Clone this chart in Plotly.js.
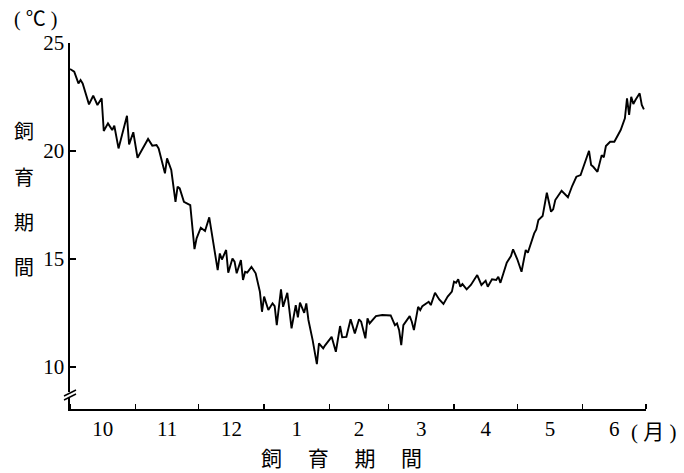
<!DOCTYPE html>
<html>
<head>
<meta charset="utf-8">
<script src="https://cdn.plot.ly/plotly-3.0.1.min.js"></script>
<style>html,body{margin:0;padding:0;background:#fff;}#chart{width:684px;height:473px;}</style>
</head>
<body>
<div id="chart"></div>
<script>
// Daily water temperature during the rearing period (Oct 1978 – Jun 1979)
const dates = [
 '1978-10-01','1978-10-03','1978-10-05','1978-10-06','1978-10-07','1978-10-10','1978-10-12','1978-10-14','1978-10-16','1978-10-17',
 '1978-10-19','1978-10-21','1978-10-22','1978-10-24','1978-10-28','1978-10-29','1978-10-31',
 '1978-11-02','1978-11-07','1978-11-09','1978-11-11','1978-11-12','1978-11-15','1978-11-16','1978-11-18','1978-11-20','1978-11-21',
 '1978-11-22','1978-11-24','1978-11-27','1978-11-29','1978-11-30',
 '1978-12-02','1978-12-04','1978-12-06','1978-12-08','1978-12-10','1978-12-11','1978-12-12','1978-12-14','1978-12-15','1978-12-17',
 '1978-12-18','1978-12-19','1978-12-21','1978-12-22','1978-12-23','1978-12-24','1978-12-26','1978-12-28','1978-12-30','1978-12-31',
 '1979-01-01','1979-01-03','1979-01-05','1979-01-06','1979-01-07','1979-01-09','1979-01-10','1979-01-12','1979-01-14','1979-01-16',
 '1979-01-17','1979-01-18','1979-01-20','1979-01-21','1979-01-22','1979-01-24','1979-01-26','1979-01-27','1979-01-29','1979-01-30',
 '1979-02-02','1979-02-04','1979-02-06','1979-02-07','1979-02-09','1979-02-11','1979-02-13','1979-02-15','1979-02-16','1979-02-18',
 '1979-02-19','1979-02-20','1979-02-23','1979-02-26',
 '1979-03-02','1979-03-04','1979-03-05','1979-03-06','1979-03-07','1979-03-08','1979-03-10','1979-03-11','1979-03-12','1979-03-13',
 '1979-03-15','1979-03-16','1979-03-17','1979-03-20','1979-03-21','1979-03-23','1979-03-25','1979-03-27','1979-03-29','1979-03-31',
 '1979-04-01','1979-04-02','1979-04-03','1979-04-04','1979-04-05','1979-04-07','1979-04-09','1979-04-12','1979-04-14','1979-04-16',
 '1979-04-17','1979-04-19','1979-04-21','1979-04-22','1979-04-23','1979-04-25','1979-04-26','1979-04-28','1979-04-29',
 '1979-05-01','1979-05-03','1979-05-05','1979-05-06','1979-05-09','1979-05-10','1979-05-11','1979-05-13','1979-05-15','1979-05-17',
 '1979-05-18','1979-05-19','1979-05-22','1979-05-25','1979-05-27','1979-05-29','1979-05-31',
 '1979-06-02','1979-06-04','1979-06-05','1979-06-06','1979-06-08','1979-06-10','1979-06-11','1979-06-12','1979-06-14','1979-06-16',
 '1979-06-19','1979-06-21','1979-06-22','1979-06-23','1979-06-24','1979-06-25','1979-06-26','1979-06-28','1979-06-29','1979-06-30'
];
const temps = [
 23.8,23.67,23.13,23.29,23.13,22.16,22.56,22.13,22.44,20.93,
 21.28,20.97,21.17,20.12,21.63,20.31,20.87,
 19.69,20.56,20.25,20.28,20.12,18.97,19.66,19.12,17.65,18.35,
 18.27,17.65,17.5,15.46,15.96,
 16.45,16.3,16.93,15.6,14.49,15.26,14.98,15.42,14.37,15.03,
 14.88,14.34,14.95,14.03,14.41,14.37,14.64,14.34,13.49,12.56,
 13.26,12.64,12.95,12.82,11.94,13.6,12.79,13.44,11.79,12.87,
 12.3,12.98,12.51,12.95,12.18,11.25,10.14,11.1,10.87,11.02,
 11.4,10.71,11.9,11.38,11.4,12.21,11.56,12.21,12.1,11.33,
 12.25,12.02,12.36,12.41,
 12.39,11.94,12.02,11.71,11.02,11.94,12.25,12.36,12.1,11.71,
 12.79,12.64,12.82,13.02,12.87,13.44,13.13,12.92,13.26,13.49,
 13.95,13.9,14.06,13.72,13.84,13.6,13.8,14.26,13.8,14.0,
 13.72,14.06,14.03,14.18,13.9,14.46,14.83,15.14,15.45,
 14.99,14.41,15.42,15.29,16.19,16.37,16.81,16.99,18.07,17.19,
 17.3,17.73,18.16,17.86,18.38,18.81,18.89,
 19.43,20.01,19.35,19.27,19.04,19.81,19.71,20.23,20.43,20.43,
 20.97,21.51,22.44,21.67,22.51,22.18,22.36,22.67,22.13,21.93
];
const yTickVals = [10, 15, 20, 25];
const yTitleChars = ['飼', '育', '期', '間'];
const xTitleText = '飼　 育　 期　 間';
const xUnitText = '( 月 )';
const yUnitText = '( <span style="font-family:Noto Sans CJK JP">℃</span> )';

const serif = 'Liberation Serif, Times New Roman, serif';
const cjk = 'Liberation Serif, Noto Sans CJK JP, serif';

const annotations = [];
yTitleChars.forEach((ch, i) => {
  annotations.push({
    text: ch, xref: 'paper', yref: 'paper', x: -0.08, y: 0.76 - i * 0.124,
    xanchor: 'center', yanchor: 'middle', showarrow: false,
    font: {family: 'Noto Sans CJK JP', size: 20, color: '#000'}
  });
});
annotations.push({
  text: xTitleText, xref: 'paper', yref: 'paper', x: 0.472, y: 0, yshift: -48,
  xanchor: 'center', yanchor: 'middle', showarrow: false,
  font: {family: 'Noto Sans CJK JP', size: 21, color: '#000'}
});
annotations.push({
  text: xUnitText, xref: 'paper', yref: 'paper', x: 1.0, xshift: 8, y: 0, yshift: -23,
  xanchor: 'center', yanchor: 'middle', showarrow: false,
  font: {family: cjk, size: 21, color: '#000'}
});
annotations.push({
  text: yUnitText, xref: 'paper', yref: 'paper', x: 0, xshift: -35, y: 1, yshift: 26,
  xanchor: 'center', yanchor: 'middle', showarrow: false,
  font: {family: cjk, size: 20, color: '#000'}
});

const shapes = [
  {type: 'rect', xref: 'paper', yref: 'paper', xsizemode: 'pixel', ysizemode: 'pixel',
   xanchor: 0, yanchor: 0, x0: -3, x1: 3, y0: 11, y1: 17,
   fillcolor: '#fff', line: {width: 0}, layer: 'above'},
  {type: 'line', xref: 'paper', yref: 'paper', xsizemode: 'pixel', ysizemode: 'pixel',
   xanchor: 0, yanchor: 0, x0: -6, x1: 6, y0: 9, y1: 15,
   line: {color: '#000', width: 1.5}, layer: 'above'},
  {type: 'line', xref: 'paper', yref: 'paper', xsizemode: 'pixel', ysizemode: 'pixel',
   xanchor: 0, yanchor: 0, x0: -6, x1: 6, y0: 13, y1: 19,
   line: {color: '#000', width: 1.5}, layer: 'above'}
];

const trace = {
  x: dates, y: temps, type: 'scatter', mode: 'lines',
  line: {color: '#000', width: 1.9}, hoverinfo: 'skip'
};

const layout = {
  width: 684, height: 473,
  margin: {l: 70, r: 38, t: 43, b: 64},
  paper_bgcolor: '#fff', plot_bgcolor: '#fff',
  showlegend: false,
  xaxis: {
    type: 'date', range: ['1978-10-01', '1979-07-01'],
    tick0: '1978-10-01', dtick: 'M1', tickformat: '%-m', ticklabelmode: 'period',
    ticks: 'inside', ticklen: 5, tickwidth: 1.3, tickcolor: '#000',
    showline: true, linecolor: '#000', linewidth: 1.6,
    showgrid: false, zeroline: false, fixedrange: true,
    tickfont: {family: serif, size: 21, color: '#000'}
  },
  yaxis: {
    range: [8.06, 25], tickvals: yTickVals,
    ticks: 'inside', ticklen: 6, tickwidth: 1.3, tickcolor: '#000',
    showline: true, linecolor: '#000', linewidth: 1.6,
    showgrid: false, zeroline: false, fixedrange: true,
    tickfont: {family: serif, size: 21, color: '#000'}
  },
  annotations: annotations,
  shapes: shapes
};

Plotly.newPlot('chart', [trace], layout, {displayModeBar: false, staticPlot: true});
</script>
</body>
</html>
